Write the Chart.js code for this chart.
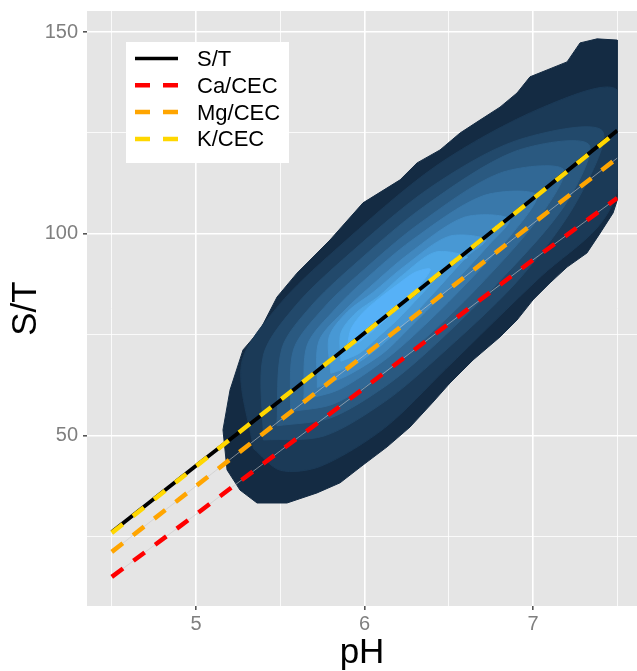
<!DOCTYPE html>
<html>
<head>
<meta charset="utf-8">
<script src="https://cdn.jsdelivr.net/npm/chart.js@4.4.1/dist/chart.umd.min.js"></script>
<style>
  html, body { margin: 0; padding: 0; background: #fff; }
  canvas { display: block; }
</style>
</head>
<body>
<canvas id="c" width="637" height="671"></canvas>
<script>
/* S/T vs pH — 2d density bands + fitted lines */

// fitted lines, read at pH 4.5 .. 7.5
const lineX    = [4.5, 5, 5.5, 6, 6.5, 7, 7.5];
const stValues = [26.2, 42.6, 58.8, 75.5, 92.0, 108.8, 125.6];
const caValues = [15.1, 30.6, 46.3, 61.9, 77.8, 93.6, 108.9];
const mgValues = [21.3, 37.6, 53.9, 70.0, 86.3, 102.6, 118.8];
const kValues  = [26.0, 42.5, 58.9, 75.4, 92.1, 108.7, 125.4];
const seriesNames  = ['S/T', 'Ca/CEC', 'Mg/CEC', 'K/CEC'];
const seriesColors = ['#000000', '#ff0000', '#ffa500', '#ffd700'];

// axis ticks
const xTicks  = [4.5, 5, 5.5, 6, 6.5, 7, 7.5];
const xLabels = [5, 6, 7];
const yTicks  = [25, 50, 75, 100, 125, 150];
const yLabels = [50, 100, 150];

// density bands, outer -> inner, as [pH, S/T] outlines
const density1 = [[7.50,148.0],[7.50,108.4],[7.475,105.2],[7.398,100.2],[7.320,95.3],[7.202,91.8],[7.101,87.9],[7.000,83.7],[6.905,78.7],[6.804,74.5],[6.644,68.8],[6.507,63.1],[6.407,58.4],[6.270,52.2],[6.134,47.3],[5.991,42.8],[5.855,38.4],[5.718,35.9],[5.540,33.4],[5.362,33.4],[5.261,36.6],[5.184,41.6],[5.160,51.5],[5.202,61.4],[5.279,71.3],[5.380,76.2],[5.481,84.4],[5.599,90.3],[5.795,98.5],[5.991,107.7],[6.211,113.4],[6.312,117.6],[6.448,120.8],[6.567,125.0],[6.685,128.2],[6.804,131.4],[6.905,134.9],[6.982,138.9],[7.083,140.6],[7.202,142.6],[7.279,147.3],[7.380,148.3],[7.50,148.0]];
const density2 = [[5.34,46.9],[5.27,67.9],[5.49,82.3],[5.82,95.8],[6.43,117.0],[7.06,131.4],[7.50,135.6],[7.50,111.0],[7.38,101.5],[7.05,89.6],[6.48,66.5],[6.12,52.0],[5.74,42.5],[5.50,41.5],[5.34,46.9]];
const density3 = [[5.40,49.0],[5.40,70.0],[5.59,82.2],[5.87,93.6],[6.38,111.2],[6.90,123.1],[7.41,125.6],[7.25,107.4],[6.90,88.0],[6.42,68.9],[6.12,58.5],[5.76,50.0],[5.40,49.0]];
const density4 = [[5.48,52.5],[5.51,71.7],[5.68,82.0],[5.92,91.7],[6.35,106.7],[6.89,120.4],[7.33,122.2],[7.19,107.2],[6.78,87.4],[6.38,71.1],[6.12,62.2],[5.80,54.5],[5.48,52.5]];
const density5 = [[5.56,56.0],[5.58,71.5],[5.76,81.8],[5.96,89.8],[6.32,102.4],[6.80,115.0],[7.18,116.0],[7.04,104.3],[6.67,86.7],[6.33,73.0],[6.12,65.7],[5.82,58.0],[5.56,56.0]];
const density6 = [[5.64,59.0],[5.66,72.5],[5.83,81.6],[5.99,88.2],[6.28,98.4],[6.70,109.4],[7.02,109.7],[6.89,100.8],[6.56,85.8],[6.29,74.8],[6.12,68.8],[5.85,61.5],[5.64,59.0]];
const density7 = [[5.72,62.0],[5.73,73.5],[5.89,81.4],[6.03,86.8],[6.26,95.0],[6.59,104.1],[6.86,103.7],[6.74,97.4],[6.47,85.3],[6.26,76.5],[6.11,70.5],[5.90,65.0],[5.72,62.0]];
const density8 = [[5.80,65.5],[5.79,74.5],[5.90,80.8],[6.05,85.5],[6.24,92.1],[6.50,99.4],[6.72,98.6],[6.61,94.5],[6.40,84.9],[6.22,77.0],[6.08,71.8],[5.94,67.6],[5.80,65.5]];
const density9 = [[5.86,68.5],[5.86,75.5],[5.95,80.5],[6.08,84.4],[6.22,89.6],[6.42,95.5],[6.61,94.3],[6.50,92.1],[6.33,84.7],[6.19,78.6],[6.08,74.5],[5.97,70.5],[5.86,68.5]];
const density10 = [[5.90,72.5],[5.92,76.5],[5.99,80.5],[6.08,83.8],[6.20,87.6],[6.30,90.5],[6.39,91.3],[6.34,88.0],[6.24,83.6],[6.12,78.6],[6.02,75.0],[5.95,72.8],[5.90,72.5]];
const densityColors = ['#142b43','#1b3a57','#22496b','#2a5980','#316895','#3978aa','#4188bf','#4898d4','#4fa7e6','#56b1f7'];

const FONT = "'Liberation Sans', Arial, Helvetica, sans-serif";
const toXY = pts => pts.map(p => ({ x: p[0], y: p[1] }));
const linePts = vals => lineX.map((x, j) => ({ x, y: vals[j] }));

const datasets = [];
[density1, density2, density3, density4, density5, density6, density7, density8, density9, density10]
  .forEach((pts, i) => {
    datasets.push({
      data: toXY(pts), showLine: true, pointRadius: 0,
      borderColor: densityColors[i], borderWidth: 1,
      backgroundColor: densityColors[i], fill: 'shape',
      tension: i === 0 ? 0 : 0.3, order: 30 - i,
    });
  });

// thin grey guide under the dashed fits
[caValues, mgValues, kValues].forEach(vals => {
  datasets.push({ data: linePts(vals), showLine: true, pointRadius: 0, fill: false,
    borderColor: 'rgba(200,200,200,0.6)', borderWidth: 1, order: 10 });
});

[stValues, caValues, mgValues, kValues].forEach((vals, i) => {
  datasets.push({
    label: seriesNames[i], data: linePts(vals), showLine: true, pointRadius: 0, fill: false,
    borderColor: seriesColors[i], borderWidth: i === 0 ? 3.8 : 4.5,
    borderDash: i === 0 ? [] : [14, 13], order: 5 - i,
  });
});

const panelPlugin = {
  id: 'panel',
  beforeDraw(chart) {
    const { ctx, chartArea: a } = chart;
    ctx.save();
    ctx.fillStyle = '#ffffff';
    ctx.fillRect(0, 0, chart.width, chart.height);
    ctx.fillStyle = '#e5e5e5';
    ctx.fillRect(a.left, a.top, a.right - a.left, a.bottom - a.top);
    ctx.restore();
  },
  // density is only estimated up to pH 7.5
  beforeDatasetsDraw(chart) {
    const { ctx, chartArea: a } = chart;
    const xr = chart.scales.x.getPixelForValue(7.5) + 0.5;
    ctx.save();
    ctx.beginPath();
    ctx.rect(a.left, a.top, xr - a.left, a.bottom - a.top);
    ctx.clip();
  },
  afterDatasetsDraw(chart) { chart.ctx.restore(); },
  afterDraw(chart) {
    const ctx = chart.ctx;
    ctx.save();
    ctx.fillStyle = '#ffffff';
    ctx.fillRect(126, 42, 163, 121);
    seriesNames.forEach((name, i) => {
      const y = 58.5 + i * 26.8;
      ctx.beginPath();
      ctx.strokeStyle = seriesColors[i];
      ctx.lineWidth = i === 0 ? 3.5 : 4.5;
      ctx.setLineDash(i === 0 ? [] : [15, 13]);
      ctx.moveTo(135, y);
      ctx.lineTo(178, y);
      ctx.stroke();
      ctx.setLineDash([]);
      ctx.fillStyle = '#000';
      ctx.font = '22px ' + FONT;
      ctx.textBaseline = 'middle';
      ctx.textAlign = 'left';
      ctx.fillText(name, 197, y + 1.5);
    });
    ctx.restore();
  },
};

new Chart(document.getElementById('c').getContext('2d'), {
  type: 'scatter',
  data: { datasets },
  options: {
    responsive: false,
    animation: false,
    devicePixelRatio: 1,
    layout: { padding: { top: 11, left: 0, right: 0, bottom: 0 } },
    plugins: { legend: { display: false }, tooltip: { enabled: false } },
    scales: {
      x: {
        type: 'linear', min: 4.353, max: 7.617,
        afterBuildTicks: s => { s.ticks = xTicks.map(v => ({ value: v })); },
        afterFit: s => { s.height = 65; },
        border: { display: false },
        grid: {
          color: '#ffffff',
          lineWidth: c => (c.tick && xLabels.includes(c.tick.value)) ? 1.6 : 0.8,
          tickColor: c => (c.tick && xLabels.includes(c.tick.value)) ? '#555555' : 'rgba(0,0,0,0)',
          tickLength: 4, drawTicks: true,
        },
        ticks: {
          callback: v => xLabels.includes(v) ? String(v) : '',
          color: '#7f7f7f', font: { family: FONT, size: 20 }, padding: 2,
          autoSkip: false, maxRotation: 0,
        },
        title: { display: true, text: 'pH', color: '#000', font: { family: FONT, size: 35, lineHeight: 1 }, padding: { top: 0, bottom: 0 } },
      },
      y: {
        type: 'linear', min: 7.9, max: 155.2,
        afterBuildTicks: s => { s.ticks = yTicks.map(v => ({ value: v })); },
        afterFit: s => { s.width = 87; },
        border: { display: false },
        grid: {
          color: '#ffffff',
          lineWidth: c => (c.tick && yLabels.includes(c.tick.value)) ? 1.6 : 0.8,
          tickColor: c => (c.tick && yLabels.includes(c.tick.value)) ? '#555555' : 'rgba(0,0,0,0)',
          tickLength: 4, drawTicks: true,
        },
        ticks: {
          callback: v => yLabels.includes(v) ? String(v) : '',
          color: '#7f7f7f', font: { family: FONT, size: 20, lineHeight: 0.5 }, padding: 5,
        },
        title: { display: true, text: 'S/T', color: '#000', font: { family: FONT, size: 35, lineHeight: 1 }, padding: { top: 9, bottom: 0 } },
      },
    },
  },
  plugins: [panelPlugin],
});
</script>
</body>
</html>
